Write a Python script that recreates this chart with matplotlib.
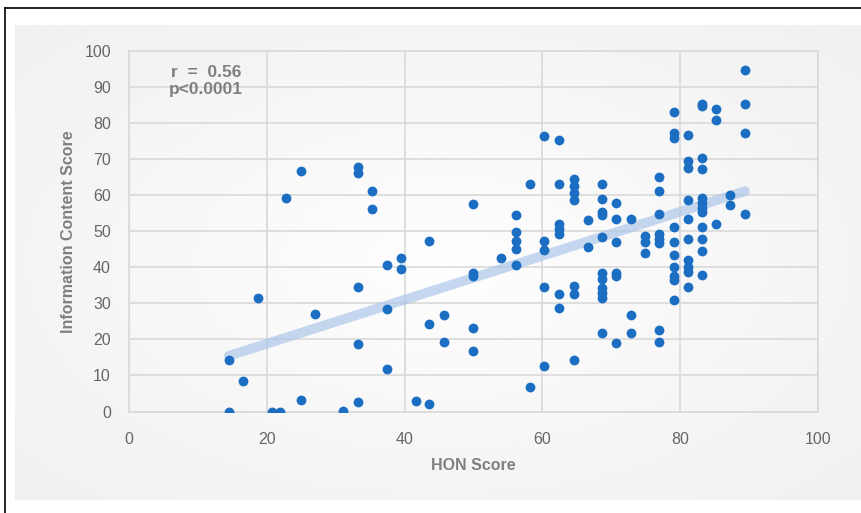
import numpy as np
import matplotlib.pyplot as plt
from matplotlib.lines import Line2D

plt.rcParams["font.family"] = ["Liberation Sans", "DejaVu Sans"]

# HON score (x) and information content score (y)
hon_score = [
    14.5, 16.6, 14.5, 20.7, 21.9, 18.7, 24.9, 22.8, 24.9, 27.0,
    33.2, 33.2, 33.2, 33.2, 33.2, 31.1, 35.3, 35.3, 37.4, 39.5,
    39.5, 37.4, 37.4, 41.6, 43.6, 43.6, 43.6, 45.7, 45.7, 49.9,
    49.9, 49.9, 49.9, 49.9, 54.0, 56.2, 56.2, 56.2, 56.2, 56.2,
    58.2, 58.2, 60.3, 60.3, 60.3, 60.3, 60.3, 62.4, 62.4, 62.4,
    62.4, 62.4, 62.4, 62.4, 64.6, 64.6, 64.6, 64.6, 64.6, 64.6,
    64.6, 66.6, 66.6, 68.7, 68.7, 68.7, 68.7, 68.7, 68.7, 68.7,
    68.7, 68.7, 68.7, 68.7, 70.7, 70.7, 70.7, 70.7, 70.7, 70.7,
    72.8, 72.8, 72.8, 74.9, 74.9, 74.9, 76.9, 76.9, 76.9, 76.9,
    76.9, 76.9, 76.9, 76.9, 79.1, 79.1, 79.1, 79.1, 79.1, 79.1,
    79.1, 79.1, 79.1, 79.1, 81.1, 81.1, 81.1, 81.1, 81.1, 81.1,
    81.1, 81.1, 81.1, 81.1, 83.2, 83.2, 83.2, 83.2, 83.2, 83.2,
    83.2, 83.2, 83.2, 83.2, 83.2, 83.2, 85.2, 85.2, 85.2, 87.3,
    87.3, 89.4, 89.4, 89.4, 89.4,
]
info_score = [
    14.2, 8.4, 0.0, 0.0, 0.0, 31.5, 66.6, 59.2, 3.3, 27.0,
    67.8, 66.2, 34.4, 18.7, 2.5, 0.2, 61.1, 56.1, 40.5, 42.7,
    39.5, 28.4, 11.8, 3.0, 2.0, 47.2, 24.4, 26.7, 19.4, 57.5,
    38.4, 37.7, 23.1, 16.7, 42.7, 54.4, 49.7, 47.2, 45.1, 40.5,
    63.2, 6.7, 76.3, 47.2, 44.9, 34.4, 12.7, 75.3, 63.0, 51.9,
    50.5, 49.1, 32.7, 28.7, 64.6, 62.5, 60.7, 58.6, 34.7, 32.7,
    14.2, 53.0, 45.6, 63.0, 58.9, 55.3, 54.4, 48.4, 38.4, 36.8,
    34.3, 32.9, 31.5, 21.8, 57.9, 53.3, 46.9, 38.4, 37.7, 19.0,
    53.5, 26.7, 21.8, 48.6, 46.9, 44.0, 65.0, 61.1, 54.9, 49.1,
    47.9, 46.8, 22.7, 19.4, 83.1, 77.3, 75.8, 51.2, 46.9, 43.5,
    40.1, 37.7, 36.6, 30.8, 76.6, 69.4, 67.6, 58.6, 53.5, 47.9,
    42.1, 40.1, 38.7, 34.4, 85.2, 84.7, 70.2, 67.3, 59.3, 57.9,
    56.5, 55.3, 51.2, 47.9, 44.4, 37.8, 83.8, 80.8, 52.1, 60.0,
    57.4, 94.6, 85.2, 77.2, 54.8,
]
# linear trendline as shown on the chart
trend_slope = 0.61
trend_intercept = 6.6
tick_values = [0, 20, 40, 60, 80, 100]
y_ticks = list(range(0, 101, 10))
stats_text = "r  =  0.56\np<0.0001"

GRAY_TEXT = "#666666"
LABEL_GRAY = "#7f7f7f"
GRID = "#d9d9d9"
DOT = "#1b6ec2"

fig = plt.figure(figsize=(8.61, 5.13), dpi=100)
fig.patch.set_facecolor("white")

# light gray panel with a soft radial gradient
bg = fig.add_axes([15 / 861, 1 - 500 / 513, 1 - 15 / 861, (500 - 25) / 513])
gx, gy = np.meshgrid(np.linspace(-1, 1, 300), np.linspace(-1, 1, 200))
dist = np.sqrt(gx ** 2 + gy ** 2) / np.sqrt(2)
bg.imshow(0.995 - 0.055 * dist, cmap="gray", vmin=0, vmax=1, aspect="auto",
          extent=[0, 1, 0, 1])
bg.set_axis_off()

# frame lines (left and top edge of the pasted figure)
fig.add_artist(Line2D([5 / 861, 5 / 861], [0, 1 - 8 / 513], color="black",
                      lw=1.2, transform=fig.transFigure))
fig.add_artist(Line2D([5 / 861, 1], [1 - 8 / 513, 1 - 8 / 513], color="black",
                      lw=1.2, transform=fig.transFigure))

ax = fig.add_axes([129 / 861, 1 - 411.5 / 513, 689 / 861, 360.5 / 513])
ax.patch.set_alpha(0)

ax.set_xlim(0, 100)
ax.set_ylim(0, 100)
ax.set_xticks(tick_values)
ax.set_yticks(y_ticks)
ax.grid(True, color=GRID, lw=1.2)
ax.set_axisbelow(True)
for side in ax.spines.values():
    side.set_color(GRID)
    side.set_linewidth(1.2)
ax.tick_params(length=0, labelsize=11.5, labelcolor=GRAY_TEXT)
ax.tick_params(axis="x", pad=15)
ax.tick_params(axis="y", pad=13)

xs = np.array([min(hon_score), max(hon_score)])
ax.plot(xs, trend_slope * xs + trend_intercept, color="#a8c4e8", lw=7,
        alpha=0.65, solid_capstyle="round", zorder=2)

ax.scatter(hon_score, info_score, s=50, color=DOT, zorder=3, linewidths=0)

ax.text(11.2, 96, stats_text, ha="center", va="top", fontsize=12.5,
        fontweight="bold", color=LABEL_GRAY, linespacing=1.15)

ax.set_xlabel("HON Score", fontsize=11.5, fontweight="bold", color=LABEL_GRAY,
              labelpad=8)
ax.set_ylabel("Information Content Score", fontsize=11.5, fontweight="bold",
              color=LABEL_GRAY, labelpad=6)

fig.savefig("out.png", dpi=100)
